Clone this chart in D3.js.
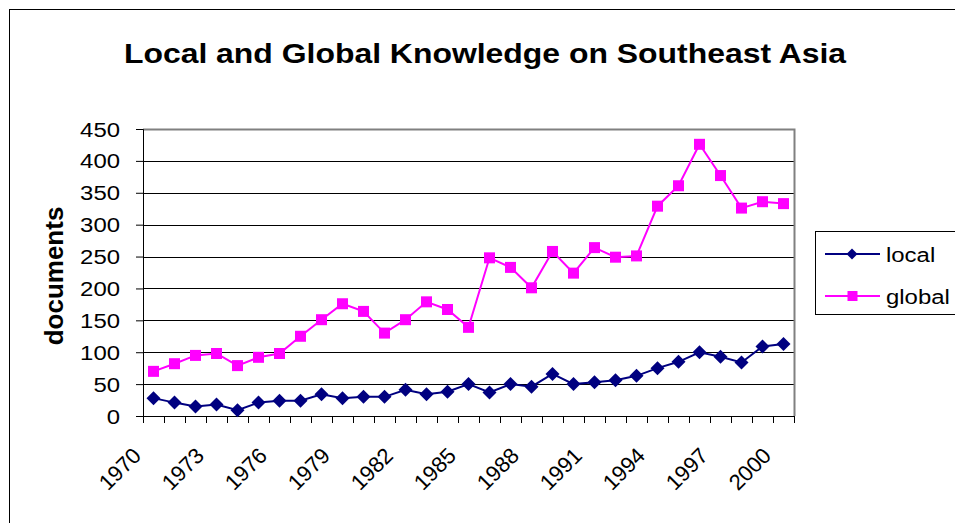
<!DOCTYPE html>
<html>
<head>
<meta charset="utf-8">
<script src="https://cdn.jsdelivr.net/npm/d3@7"></script>
<style>
  body { margin: 0; background: #fff; }
  text { font-family: "Liberation Sans", Arial, sans-serif; }
</style>
</head>
<body>
<script>
// chart data
const years = d3.range(1970, 2001).map(String);
const localDocs = [28, 21, 15, 18, 9, 21, 24, 24, 34, 28, 30, 30, 41, 34, 38, 50, 37, 50, 46, 66, 50, 53, 56, 63, 75, 85, 100, 93, 84, 109, 113];
const globalDocs = [70, 82, 95, 98, 79, 92, 98, 125, 151, 176, 164, 130, 151, 179, 167, 139, 248, 233, 201, 258, 224, 264, 249, 251, 329, 361, 426, 377, 326, 336, 333];
const yTicks = [0, 50, 100, 150, 200, 250, 300, 350, 400, 450];
const labelYears = ["1970", "1973", "1976", "1979", "1982", "1985", "1988", "1991", "1994", "1997", "2000"];
const seriesNames = ["local", "global"];

const width = 955, height = 523;
const plot = {left: 143, top: 129, right: 794, bottom: 416};
const sx = 1.14; // the original picture is a bit wider than tall

const svg = d3.select("body").append("svg")
  .attr("width", width)
  .attr("height", height);

// outer chart border
svg.append("rect")
  .attr("x", 9.5).attr("y", 9.5)
  .attr("width", 960).attr("height", 530)
  .attr("fill", "#fff")
  .attr("stroke", "#000")
  .attr("stroke-width", 1);

const x = d3.scaleBand().domain(years).range([plot.left, plot.right]);
const y = d3.scaleLinear().domain([0, 450]).range([plot.bottom, plot.top]);
const cx = d => x(d) + x.bandwidth() / 2;

// title
svg.append("text")
  .attr("transform", `translate(485,63) scale(${sx},1)`)
  .attr("text-anchor", "middle")
  .attr("font-size", 28)
  .attr("font-weight", "bold")
  .text("Local and Global Knowledge on Southeast Asia");

// grid lines
svg.append("g")
  .selectAll("line")
  .data(yTicks.slice(1))
  .join("line")
  .attr("x1", plot.left).attr("x2", plot.right)
  .attr("y1", d => Math.round(y(d)) + 0.5)
  .attr("y2", d => Math.round(y(d)) + 0.5)
  .attr("stroke", "#000")
  .attr("stroke-width", 1);

// plot border right/top in grey
svg.append("path")
  .attr("d", `M${plot.left},${plot.top + 0.5}H${plot.right + 0.5}V${plot.bottom}`)
  .attr("fill", "none")
  .attr("stroke", "#808080")
  .attr("stroke-width", 2);

// y axis line and ticks
const yAxis = svg.append("g")
  .attr("transform", `translate(${plot.left},0)`)
  .call(d3.axisLeft(y).tickValues(yTicks).tickSize(7).tickFormat(""));
yAxis.selectAll("line").attr("stroke", "#000");
yAxis.select(".domain").attr("stroke", "#000");

svg.append("g")
  .selectAll("text")
  .data(yTicks)
  .join("text")
  .attr("transform", d => `translate(120,${y(d) + 7.5}) scale(${sx},1)`)
  .attr("text-anchor", "end")
  .attr("font-size", 21)
  .text(d => d);

// x axis: ticks at category boundaries
const bounds = years.map(d => x(d)).concat([plot.right]);
svg.append("line")
  .attr("x1", plot.left).attr("x2", plot.right)
  .attr("y1", plot.bottom + 0.5).attr("y2", plot.bottom + 0.5)
  .attr("stroke", "#000");
svg.append("g")
  .selectAll("line")
  .data(bounds)
  .join("line")
  .attr("x1", d => Math.round(d) + 0.5).attr("x2", d => Math.round(d) + 0.5)
  .attr("y1", plot.bottom).attr("y2", plot.bottom + 7)
  .attr("stroke", "#000");

svg.append("g")
  .selectAll("text")
  .data(labelYears)
  .join("text")
  .attr("transform", d => `translate(${cx(d) - 11},457) rotate(-45)`)
  .attr("text-anchor", "end")
  .attr("font-size", 22)
  .text(d => d);

// y axis title
svg.append("text")
  .attr("transform", `translate(63,276) rotate(-90)`)
  .attr("text-anchor", "middle")
  .attr("font-size", 26)
  .attr("font-weight", "bold")
  .text("documents");

const line = d3.line()
  .x((d, i) => cx(years[i]))
  .y(d => y(d));

const colors = {local: "#000080", global: "#FF00FF"};

// global series
svg.append("path")
  .datum(globalDocs)
  .attr("d", line)
  .attr("fill", "none")
  .attr("stroke", colors.global)
  .attr("stroke-width", 2);
svg.append("g")
  .selectAll("rect")
  .data(globalDocs)
  .join("rect")
  .attr("x", (d, i) => cx(years[i]) - 5.5)
  .attr("y", d => y(d) - 5.5)
  .attr("width", 11).attr("height", 11)
  .attr("fill", colors.global);

// local series
svg.append("path")
  .datum(localDocs)
  .attr("d", line)
  .attr("fill", "none")
  .attr("stroke", colors.local)
  .attr("stroke-width", 2);
const diamond = s => `M0,${-s}L${s},0L0,${s}L${-s},0Z`;
svg.append("g")
  .selectAll("path")
  .data(localDocs)
  .join("path")
  .attr("transform", (d, i) => `translate(${cx(years[i])},${y(d)})`)
  .attr("d", diamond(7))
  .attr("fill", colors.local);

// legend
const legend = svg.append("g");
legend.append("rect")
  .attr("x", 815.5).attr("y", 231.5)
  .attr("width", 200).attr("height", 83)
  .attr("fill", "#fff")
  .attr("stroke", "#000");
const ly = {local: 254, global: 296};
seriesNames.forEach(name => {
  legend.append("line")
    .attr("x1", 825).attr("x2", 880)
    .attr("y1", ly[name]).attr("y2", ly[name])
    .attr("stroke", colors[name]).attr("stroke-width", 2);
  if (name === "local") {
    legend.append("path")
      .attr("transform", `translate(852,${ly[name]})`)
      .attr("d", diamond(5.5))
      .attr("fill", colors[name]);
  } else {
    legend.append("rect")
      .attr("x", 847.5).attr("y", ly[name] - 5)
      .attr("width", 10).attr("height", 10)
      .attr("fill", colors[name]);
  }
  legend.append("text")
    .attr("transform", `translate(886,${ly[name] + 7.5}) scale(${sx},1)`)
    .attr("font-size", 21)
    .text(name);
});
</script>
</body>
</html>
